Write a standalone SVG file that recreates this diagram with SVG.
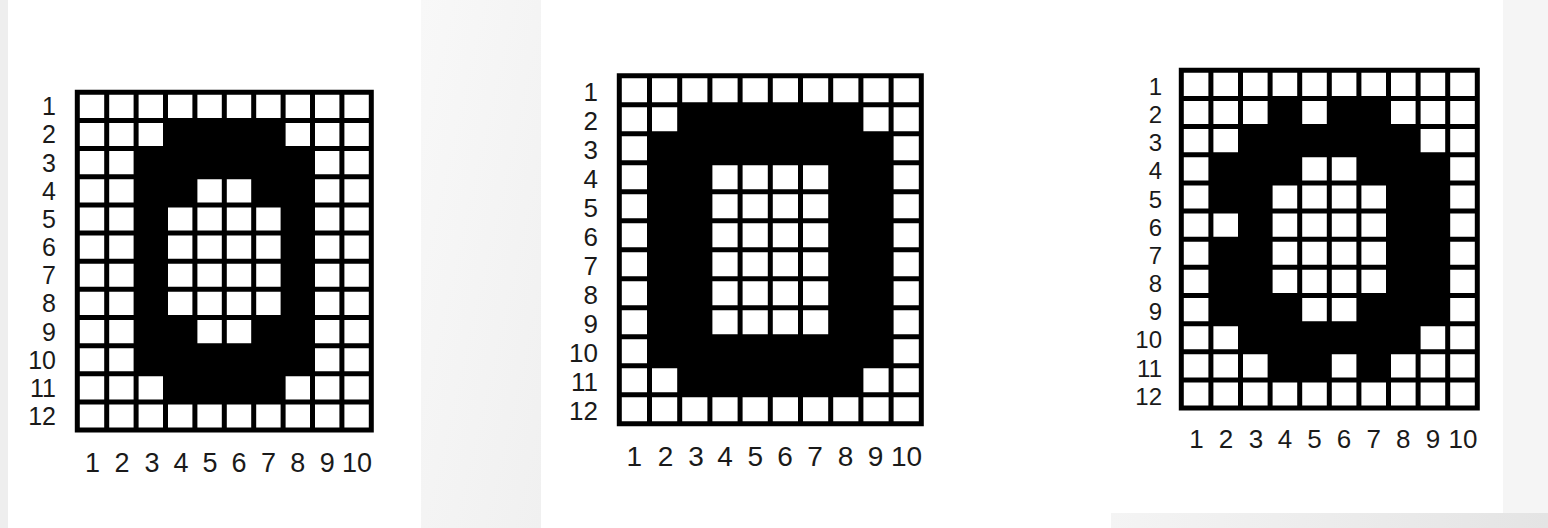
<svg xmlns="http://www.w3.org/2000/svg" width="1548" height="528" viewBox="0 0 1548 528">
<style>
.bg{fill:#ffffff}
.cells{fill:#ffffff}
.lines{fill:none;stroke:#000;stroke-width:5;stroke-linecap:square}
.blk{fill:#000}
.lbl{font-family:"Liberation Sans",Arial,sans-serif;fill:#1a1a1a}
.row{text-anchor:end}
.col{text-anchor:middle}
</style>
<defs>
<linearGradient id="gMid" x1="0" y1="0" x2="1" y2="1">
<stop offset="0" stop-color="#f8f8f8"/>
<stop offset="1" stop-color="#f0f0f0"/>
</linearGradient>
<linearGradient id="gBR" x1="0" y1="0" x2="1" y2="0">
<stop offset="0" stop-color="#f4f4f4"/>
<stop offset="1" stop-color="#e4e4e4"/>
</linearGradient>
</defs>
<rect class="bg" x="0" y="0" width="1548" height="528"/>
<rect x="0" y="0" width="8" height="528" fill="#eeeeee"/>
<rect x="421" y="0" width="120" height="528" fill="url(#gMid)"/>
<rect x="1503" y="0" width="45" height="513" fill="#f5f5f5"/>
<rect x="1111" y="513" width="437" height="15" fill="url(#gBR)"/>

<g id="grid1">
<rect class="cells" x="75" y="90" width="298.6" height="342.4"/>
<path class="lines" d="M77.3 92.3V430.1M106.7 92.3V430.1M136.1 92.3V430.1M165.5 92.3V430.1M194.9 92.3V430.1M224.3 92.3V430.1M253.7 92.3V430.1M283.1 92.3V430.1M312.5 92.3V430.1M341.9 92.3V430.1M371.3 92.3V430.1M77.3 92.3H371.3M77.3 120.45H371.3M77.3 148.6H371.3M77.3 176.75H371.3M77.3 204.9H371.3M77.3 233.05H371.3M77.3 261.2H371.3M77.3 289.35H371.3M77.3 317.5H371.3M77.3 345.65H371.3M77.3 373.8H371.3M77.3 401.95H371.3M77.3 430.1H371.3"/>
<rect class="blk" x="165.5" y="120.45" width="117.6" height="28.15"/>
<rect class="blk" x="136.1" y="148.6" width="176.4" height="28.15"/>
<rect class="blk" x="136.1" y="345.65" width="176.4" height="28.15"/>
<rect class="blk" x="165.5" y="373.8" width="117.6" height="28.15"/>
<rect class="blk" x="136.1" y="176.75" width="29.4" height="168.9"/>
<rect class="blk" x="283.1" y="176.75" width="29.4" height="168.9"/>
<rect class="blk" x="165.5" y="176.75" width="29.4" height="28.15"/>
<rect class="blk" x="253.7" y="176.75" width="29.4" height="28.15"/>
<rect class="blk" x="165.5" y="317.5" width="29.4" height="28.15"/>
<rect class="blk" x="253.7" y="317.5" width="29.4" height="28.15"/>
<g class="lbl row" font-size="25">
<text x="56" y="115.3">1</text><text x="56" y="143.4">2</text><text x="56" y="171.6">3</text><text x="56" y="199.7">4</text><text x="56" y="227.9">5</text><text x="56" y="256">6</text><text x="56" y="284.2">7</text><text x="56" y="312.3">8</text><text x="56" y="340.5">9</text><text x="56" y="368.6">10</text><text x="56" y="396.8">11</text><text x="56" y="424.9">12</text>
</g>
<g class="lbl col" font-size="27">
<text x="92.5" y="472">1</text><text x="122" y="472">2</text><text x="152" y="472">3</text><text x="181" y="472">4</text><text x="210" y="472">5</text><text x="239" y="472">6</text><text x="268.4" y="472">7</text><text x="297.8" y="472">8</text><text x="327.2" y="472">9</text><text x="357" y="472">10</text>
</g>
</g>

<g id="grid2">
<rect class="cells" x="617" y="73.5" width="306.6" height="352.6"/>
<path class="lines" d="M619.3 75.8V423.8M649.5 75.8V423.8M679.7 75.8V423.8M709.9 75.8V423.8M740.1 75.8V423.8M770.3 75.8V423.8M800.5 75.8V423.8M830.7 75.8V423.8M860.9 75.8V423.8M891.1 75.8V423.8M921.3 75.8V423.8M619.3 75.8H921.3M619.3 104.8H921.3M619.3 133.8H921.3M619.3 162.8H921.3M619.3 191.8H921.3M619.3 220.8H921.3M619.3 249.8H921.3M619.3 278.8H921.3M619.3 307.8H921.3M619.3 336.8H921.3M619.3 365.8H921.3M619.3 394.8H921.3M619.3 423.8H921.3"/>
<rect class="blk" x="679.7" y="104.8" width="181.2" height="29"/>
<rect class="blk" x="649.5" y="133.8" width="241.6" height="29"/>
<rect class="blk" x="649.5" y="336.8" width="241.6" height="29"/>
<rect class="blk" x="679.7" y="365.8" width="181.2" height="29"/>
<rect class="blk" x="649.5" y="162.8" width="60.4" height="174"/>
<rect class="blk" x="830.7" y="162.8" width="60.4" height="174"/>
<g class="lbl row" font-size="26">
<text x="598" y="101.1">1</text><text x="598" y="130.1">2</text><text x="598" y="159.1">3</text><text x="598" y="188.1">4</text><text x="598" y="217.1">5</text><text x="598" y="246.1">6</text><text x="598" y="275.1">7</text><text x="598" y="304.1">8</text><text x="598" y="333.1">9</text><text x="598" y="362.1">10</text><text x="598" y="391.1">11</text><text x="598" y="420.1">12</text>
</g>
<g class="lbl col" font-size="28">
<text x="634.4" y="466">1</text><text x="665.5" y="466">2</text><text x="696" y="466">3</text><text x="725" y="466">4</text><text x="755.2" y="466">5</text><text x="785" y="466">6</text><text x="815" y="466">7</text><text x="845.5" y="466">8</text><text x="875.5" y="466">9</text><text x="906.5" y="466">10</text>
</g>
</g>

<g id="grid3">
<rect class="cells" x="1179" y="68" width="300.6" height="342.4"/>
<path class="lines" d="M1181.3 70.3V408.1M1210.9 70.3V408.1M1240.5 70.3V408.1M1270.1 70.3V408.1M1299.7 70.3V408.1M1329.3 70.3V408.1M1358.9 70.3V408.1M1388.5 70.3V408.1M1418.1 70.3V408.1M1447.7 70.3V408.1M1477.3 70.3V408.1M1181.3 70.3H1477.3M1181.3 98.45H1477.3M1181.3 126.6H1477.3M1181.3 154.75H1477.3M1181.3 182.9H1477.3M1181.3 211.05H1477.3M1181.3 239.2H1477.3M1181.3 267.35H1477.3M1181.3 295.5H1477.3M1181.3 323.65H1477.3M1181.3 351.8H1477.3M1181.3 379.95H1477.3M1181.3 408.1H1477.3"/>
<rect class="blk" x="1270.1" y="98.45" width="29.6" height="28.15"/>
<rect class="blk" x="1329.3" y="98.45" width="59.2" height="28.15"/>
<rect class="blk" x="1240.5" y="126.6" width="177.6" height="28.15"/>
<rect class="blk" x="1210.9" y="154.75" width="88.8" height="28.15"/>
<rect class="blk" x="1358.9" y="154.75" width="88.8" height="28.15"/>
<rect class="blk" x="1388.5" y="182.9" width="59.2" height="112.6"/>
<rect class="blk" x="1240.5" y="182.9" width="29.6" height="112.6"/>
<rect class="blk" x="1210.9" y="182.9" width="29.6" height="28.15"/>
<rect class="blk" x="1210.9" y="239.2" width="29.6" height="56.3"/>
<rect class="blk" x="1210.9" y="295.5" width="88.8" height="28.15"/>
<rect class="blk" x="1358.9" y="295.5" width="88.8" height="28.15"/>
<rect class="blk" x="1240.5" y="323.65" width="177.6" height="28.15"/>
<rect class="blk" x="1270.1" y="351.8" width="59.2" height="28.15"/>
<rect class="blk" x="1358.9" y="351.8" width="29.6" height="28.15"/>
<g class="lbl row" font-size="24">
<text x="1162" y="95">1</text><text x="1162" y="123.1">2</text><text x="1162" y="151.3">3</text><text x="1162" y="179.4">4</text><text x="1162" y="207.6">5</text><text x="1162" y="235.7">6</text><text x="1162" y="263.9">7</text><text x="1162" y="292">8</text><text x="1162" y="320.2">9</text><text x="1162" y="348.3">10</text><text x="1162" y="376.5">11</text><text x="1162" y="404.6">12</text>
</g>
<g class="lbl col" font-size="26">
<text x="1196.5" y="448">1</text><text x="1226" y="448">2</text><text x="1256" y="448">3</text><text x="1285" y="448">4</text><text x="1314.5" y="448">5</text><text x="1344" y="448">6</text><text x="1373.7" y="448">7</text><text x="1403.3" y="448">8</text><text x="1433" y="448">9</text><text x="1463" y="448">10</text>
</g>
</g>
</svg>
